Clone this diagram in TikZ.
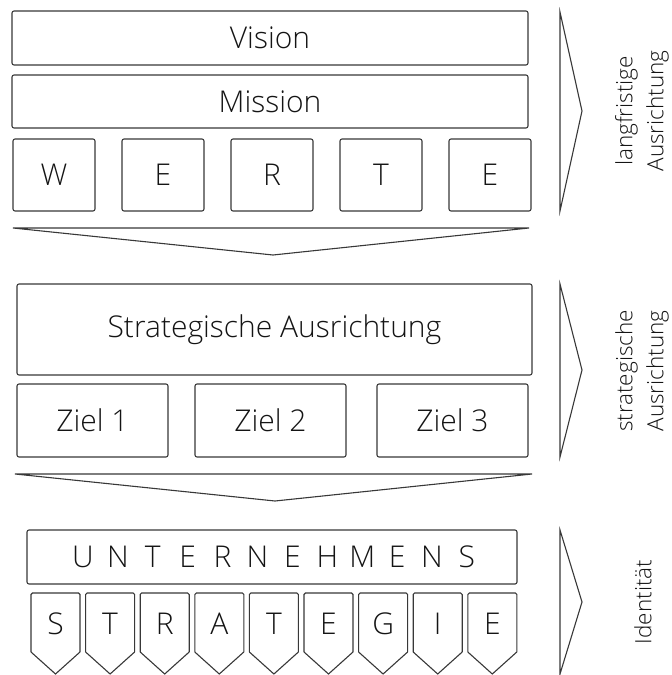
\documentclass[tikz,border=0pt]{standalone}
\usepackage{fontspec}
\setmainfont{Open Sans Light}
\begin{document}
\begin{tikzpicture}[x=1pt,y=-1pt,
  linecol/.style={draw=black!78, line width=1.1pt},
  box/.style={linecol, rounded corners=2pt, inner sep=0pt, text=black!92,
    font=\fontsize{30}{34}\selectfont},
  letter/.style={inner sep=0pt, text=black!92, font=\fontsize{30}{34}\selectfont},
  side/.style={rotate=90, align=center, text=black!92, inner sep=0pt,
    font=\fontsize{22.5}{31}\selectfont},
  pointer/.style={linecol, line join=miter, fill=white}]
\useasboundingbox (0,0) rectangle (672,675);

% --- Vision, Mission, Werte
\node[box, minimum width=516pt, minimum height=54pt] (vision) at (270,38) {Vision};
\node[box, minimum width=516pt, minimum height=53pt] (mission) at (270,101.5) {Mission};
\foreach \l [count=\i from 0] in {W,E,R,T,E}
  \node[box, minimum width=82pt, minimum height=72pt] (werte\i) at (54+109*\i,175) {\l};
\draw[pointer] (13,228) -- (529,228) -- (273,255) -- cycle;
\draw[pointer] (560,12) -- (582,111) -- (560,211) -- cycle;
\node[side] (lang) at (642,111) {langfristige\\Ausrichtung};

% --- strategische Ausrichtung und Ziele
\node[box, minimum width=515pt, minimum height=91pt] (strat) at (274.5,329.5) {Strategische Ausrichtung};
\node[box, minimum width=151pt, minimum height=73pt] (ziel1) at (92.5,420.5) {Ziel 1};
\node[box, minimum width=151pt, minimum height=73pt] (ziel2) at (270.5,420.5) {Ziel 2};
\node[box, minimum width=151pt, minimum height=73pt] (ziel3) at (452.5,420.5) {Ziel 3};
\draw[pointer] (15,474) -- (532,474) -- (275,501) -- cycle;
\draw[pointer] (560,284) -- (582,370) -- (560,457) -- cycle;
\node[side] (strside) at (642,371) {strategische\\Ausrichtung};

% --- Unternehmensstrategie
\node[box, minimum width=490pt, minimum height=54pt] (unt) at (272,557) {};
\foreach \l [count=\i from 0] in {U,N,T,E,R,N,E,H,M,E,N,S}
  \node[letter] (u\i) at (83+34.9*\i,557) {\l};
\foreach \l [count=\i from 0] in {S,T,R,A,T,E,G,I,E} {
  \pgfmathsetmacro{\xa}{31+54.6*\i}
  \draw[linecol, rounded corners=1.5pt] (\xa,652) -- (\xa,593) -- (\xa+49,593) -- (\xa+49,652);
  \draw[linecol, line join=miter] (\xa+49,652) -- (\xa+24.5,674) -- (\xa,652);
  \node[letter] (s\i) at (\xa+24.5,624) {\l};
}
\draw[pointer] (560,530) -- (582,602) -- (560,674) -- cycle;
\node[side] (ident) at (643,602) {Identität};
\end{tikzpicture}
\end{document}
